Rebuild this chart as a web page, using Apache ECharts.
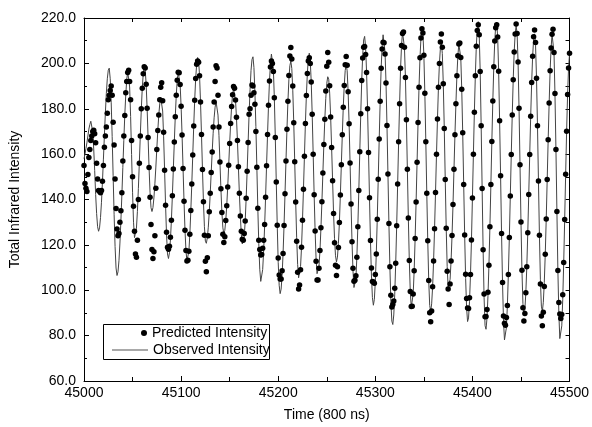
<!DOCTYPE html>
<html>
<head>
<meta charset="utf-8">
<script src="https://cdn.jsdelivr.net/npm/echarts@6/dist/echarts.min.js"></script>
<style>
  html, body { margin: 0; padding: 0; background: #fff; }
  #chart { width: 592px; height: 427px; }
</style>
</head>
<body>
<div id="chart"></div>
<script>
// Time axis: one sample per 800 ns step, starting at 45000
const startTime = 45000;

// Measured total infrared intensity (one value per time step, 45000..45500)
const observed = [
  158, 160, 162.5, 165, 168, 171, 173, 174.5, 174.2, 169.9,
  162.3, 152.8, 142.2, 133.8, 128, 126, 127.5, 132, 138.8, 147.7,
  157.8, 168.3, 178.2, 186.8, 193.2, 197, 197.9, 193.2, 182.9, 167.8,
  150.5, 133.5, 119.3, 109.8, 106.5, 108.1, 113, 120.8, 130.7, 142,
  154.1, 166.1, 177.2, 186.1, 192.8, 196.4, 196.4, 189.6, 176.6, 159.8,
  143.2, 130, 123.2, 123.3, 127.4, 134.8, 144.9, 156.4, 168.4, 179.6,
  189, 195.4, 198.4, 197.3, 190.8, 180.2, 167.3, 154.1, 143.2, 136.4,
  134.7, 136.4, 140.7, 146.9, 154.3, 162.5, 170.4, 177.2, 182.1, 185,
  185, 179, 167.6, 152.9, 137.5, 124.4, 116, 114, 116.5, 122.2,
  130.8, 141.6, 153.4, 165.3, 176.5, 185.9, 192.6, 196.1, 195.9, 190.7,
  181.1, 168.4, 153.7, 139.2, 126.5, 117.5, 112.9, 113.2, 117.2, 124.7,
  135.1, 146.8, 159.6, 172.4, 183.8, 193.3, 199.6, 202.6, 201.4, 194.6,
  183, 168.6, 153.2, 139, 128, 121.6, 120.7, 123.1, 127.8, 134.6,
  142.8, 151.9, 160.9, 169.2, 176, 180.7, 183.1, 182.4, 177.2, 168.1,
  156.5, 144.7, 134.3, 127.5, 125, 126.4, 130.7, 137.3, 145.5, 155.1,
  164.7, 173.5, 181, 186.2, 188.8, 188.3, 183.9, 176.2, 166, 154.4,
  142.7, 132.7, 124.6, 120.4, 120, 123.5, 130.5, 140.5, 152.4, 165.1,
  177.6, 188.4, 196.9, 201.7, 202.9, 198.2, 187.3, 172.2, 154.2, 136.1,
  120.5, 109.3, 103.9, 104.6, 109.1, 117.3, 128.1, 141, 154.9, 168.7,
  181.5, 192.2, 199.7, 204.1, 204.2, 197.7, 184.8, 167.3, 147.7, 128.6,
  112.2, 102.2, 98.5, 100.5, 106.6, 116.2, 128.5, 142.5, 157, 171,
  183.3, 192.9, 199, 201, 197.7, 188.2, 173.8, 156.6, 138.9, 123.1,
  111.4, 105.5, 105.8, 110.5, 118.9, 130.9, 144.5, 159.1, 173.5, 185.8,
  195.5, 202.3, 204.5, 201.2, 191.8, 177.6, 160, 142.1, 126.1, 113.7,
  107.3, 107, 110.6, 117.5, 127.5, 139, 151.7, 164.2, 175.4, 184.6,
  191.2, 194.1, 193, 186.9, 176.4, 162.9, 148.3, 133.8, 122.7, 115.2,
  112.5, 114.6, 120.6, 129.9, 142, 155.3, 168.5, 180.7, 190.3, 196.9,
  199.4, 196.7, 187.5, 173.4, 156.1, 138, 121.4, 108.5, 101.2, 100.4,
  105.2, 114.6, 128, 144, 161, 177.8, 192.4, 203.8, 210.3, 211.9,
  207.1, 196, 180, 160.7, 140.8, 121.9, 106.7, 96.8, 93.4, 96,
  103.8, 116, 131.3, 148.9, 166.7, 183.3, 197.9, 207.3, 212.6, 212.4,
  205.1, 191.4, 172.6, 151.2, 129.4, 110.4, 95.2, 86.4, 84.9, 89.1,
  98.3, 111.9, 128.4, 146.8, 165.5, 182.2, 197.8, 207.9, 213.7, 214.1,
  207.1, 193.8, 175.2, 153.3, 131.8, 113.1, 99.4, 92.5, 92.8, 98.4,
  108.6, 122.8, 138.9, 156.4, 173.9, 189.5, 202.5, 211.2, 215.3, 213.4,
  203.6, 186.8, 165.5, 142.7, 121.8, 104.3, 93.3, 90.7, 94, 101.5,
  112.9, 127.1, 143.1, 159.9, 175.5, 189.5, 199.9, 206.6, 209, 204.3,
  191, 171.3, 148.8, 127.3, 110.4, 101.2, 100.5, 104.8, 112.9, 124.1,
  137.8, 153.3, 168.5, 182.2, 194.6, 203.4, 208.5, 209.2, 202.6, 188.6,
  169.4, 146.6, 124.3, 105.2, 92.2, 86.2, 87.8, 94.9, 106.9, 122.1,
  140.7, 159.9, 178.5, 194.6, 207.5, 215.6, 218.4, 212.6, 196.4, 172.5,
  144.8, 117.8, 96.7, 84.4, 82.8, 87.6, 97.4, 111, 128, 146.6,
  165.6, 183.4, 198.5, 209.9, 216.7, 218.2, 211.6, 196.5, 174.7, 150.5,
  125, 103.4, 86.5, 78.1, 78.2, 83.6, 93.3, 106.9, 123.2, 141.5,
  159.8, 177.3, 192.8, 205, 213, 216.4, 213.2, 200.6, 180.2, 155.3,
  130.1, 108.8, 94.1, 89, 91.5, 98.9, 110.4, 125.3, 142.2, 159.8,
  176.7, 191.6, 203.1, 210.5, 213, 208, 193.4, 172.5, 148.1, 124.2,
  104.6, 93, 90.7, 94.7, 103.5, 115.9, 131.4, 148.8, 166.3, 182.5,
  196.7, 206.8, 212.8, 213.5, 204.8, 186.7, 162, 134.7, 108.7, 89.6,
  78.7, 78.1, 84.3, 96, 112.2, 131.2, 151.1, 170.1, 186.3, 198,
  204.2
];

// Model prediction at the same time steps
const predicted = [
  155, 147, 145, 143.5, 151, 158.5, 162, 166, 168, 170,
  170.5, 169, 165, 156, 149, 144, 143.5, 143, 144, 148,
  155, 163, 168, 172, 178, 184, 186, 188, 190, 186,
  174, 164, 149, 136, 127, 124, 125, 130, 135, 143,
  157, 168, 177, 187, 192, 196, 197, 192, 184, 166,
  150, 137, 126, 116, 114.5, 122, 140, 156, 168, 180,
  189, 195.4, 198.5, 198, 190.8, 180.2, 167.3, 154.1, 141, 129,
  118, 114, 117, 124, 145, 162, 170.4, 177.2, 184, 189.5,
  191.5, 183.5, 169.6, 152.9, 137.5, 125.6, 118.9, 118.1, 119.4, 123.4,
  130.8, 141.6, 153.4, 165.3, 176.5, 185.9, 192.6, 196.1, 195.9, 190.7,
  181.1, 168.4, 153.7, 139.2, 126.5, 117.5, 112.9, 113.2, 117.2, 124.7,
  135.1, 146.8, 159.6, 172.4, 183.8, 193.3, 199.6, 201, 200.5, 194.6,
  183, 168.6, 153.2, 139, 124.2, 112.8, 108.2, 114.3, 124, 134.6,
  142.8, 151.9, 160.9, 172, 183, 192, 199, 198, 186, 172,
  156.5, 144.7, 134.3, 124.7, 121, 123.6, 130.7, 137.3, 145.5, 155.1,
  164.7, 173.5, 181, 186.2, 189.8, 189, 183.9, 176.2, 166, 154.4,
  142.7, 132.7, 126, 122.5, 122, 125, 130.5, 140.5, 152.4, 165.1,
  177.6, 180, 186, 190.5, 190, 187, 182, 170, 154.2, 136.1,
  122, 118, 115.5, 115.8, 118.5, 122, 129, 141, 154.9, 168.7,
  181.5, 192.2, 198.4, 201.1, 199.9, 196.4, 184.8, 167.3, 147.7, 128.6,
  114.2, 106.7, 105, 105, 108.6, 116.2, 128.5, 142.5, 157, 171,
  183.3, 194.7, 203.2, 207, 201.9, 190, 173.8, 156.6, 138.9, 121.6,
  107.9, 100.5, 102.3, 109, 118.9, 130.9, 144.5, 159.1, 173.5, 185.8,
  195.5, 201, 202.5, 200, 191.8, 177.6, 160, 142.1, 126.1, 112.8,
  104.5, 104.5, 109.7, 117.5, 127.5, 139, 151.7, 164.2, 175.4, 187.8,
  198.7, 204.8, 200.5, 190.1, 176.4, 162.9, 148.3, 133.8, 120.9, 111,
  106.5, 110.4, 118.8, 129.9, 142, 155.3, 168.5, 180.7, 190.3, 199.4,
  203, 199.2, 187.5, 173.4, 156.1, 138, 121.4, 109.7, 104, 104.4,
  106.4, 114.6, 128, 144, 161, 177.8, 192.4, 202.4, 207.1, 207.4,
  203.9, 196, 180, 160.7, 140.8, 121.9, 109.8, 103.9, 103.6, 103.1,
  106.9, 116, 131.3, 148.9, 166.7, 183.3, 197.9, 206.3, 209.3, 209.1,
  204.1, 191.4, 172.6, 151.2, 129.4, 110.4, 97.8, 92.6, 93.7, 95.3,
  100.9, 111.9, 128.4, 146.8, 165.5, 182.2, 197.8, 207.9, 213.2, 213.8,
  207.1, 193.8, 175.2, 153.3, 131.8, 113.1, 99.4, 92.8, 93, 98.4,
  108.6, 122.8, 138.9, 156.4, 173.9, 189.5, 202.5, 211.2, 215.3, 213.4,
  203.6, 186.8, 165.5, 142.7, 121.8, 104.3, 90.1, 86.1, 90.8, 101.5,
  112.9, 127.1, 143.1, 159.9, 175.5, 189.5, 199.9, 209.4, 213, 207.1,
  191, 171.3, 148.8, 127.3, 108.4, 100.5, 93.7, 102.8, 112.9, 124.1,
  137.8, 153.3, 168.5, 182.2, 194.6, 203.4, 208.5, 209, 202.6, 188.6,
  169.4, 146.6, 124.3, 107, 96.4, 92.2, 92, 96.7, 106.9, 122.1,
  140.7, 159.9, 178.5, 194.6, 207.5, 214.5, 217, 212.6, 196.4, 172.5,
  144.8, 117.8, 98.4, 88.3, 88.4, 91.5, 99.1, 111, 128, 146.6,
  165.6, 183.4, 198.5, 209.9, 215.7, 217, 211.6, 196.5, 174.7, 150.5,
  125, 103.4, 88.7, 85.4, 84.6, 88, 93.3, 106.9, 123.2, 141.5,
  159.8, 177.3, 192.8, 205, 213, 217.4, 213.2, 200.6, 180.2, 155.3,
  130.1, 108.8, 92.3, 86.4, 89.7, 98.9, 110.4, 125.3, 142.2, 159.8,
  176.7, 191.6, 203.1, 211.7, 214.7, 209.2, 193.4, 172.5, 148.1, 124.2,
  102.7, 88.6, 84.4, 90.3, 101.6, 115.9, 131.4, 148.8, 166.3, 182.5,
  196.7, 206.8, 212.8, 215, 204.8, 186.7, 162, 134.7, 108.7, 94.6,
  89.5, 87.5, 89.3, 98, 112.2, 131.2, 151.1, 170.1, 186.3, 198,
  204.5
];

const seriesNames = ['Predicted Intensity', 'Observed Intensity'];
const FONT = '"Liberation Sans", Arial, Helvetica, sans-serif';

const toPairs = (values) => values.map((v, i) => [startTime + i, v]);

const chart = echarts.init(document.getElementById('chart'), null, { renderer: 'canvas' });

const axisLine = { show: true, lineStyle: { color: '#000', width: 1 } };

chart.setOption({
  animation: false,
  backgroundColor: '#fff',
  grid: { left: 81, right: 20, top: 18, bottom: 42, containLabel: false },
  xAxis: [
    {
      type: 'value', min: 45000, max: 45500, interval: 100,
      name: 'Time (800 ns)', nameLocation: 'middle', nameGap: 27,
      nameTextStyle: { fontFamily: FONT, fontSize: 14, color: '#000' },
      axisLine: axisLine,
      axisTick: { inside: true, length: 5, lineStyle: { color: '#000' } },
      minorTick: { show: true, splitNumber: 2, length: 4, lineStyle: { color: '#000' } },
      axisLabel: {
        fontFamily: FONT, fontSize: 14, color: '#000', margin: 5,
        formatter: (v) => String(v)
      },
      splitLine: { show: false }
    },
    {
      type: 'value', position: 'top', min: 45000, max: 45500, interval: 50,
      axisLine: axisLine,
      axisTick: { inside: true, length: 4, lineStyle: { color: '#000' } },
      axisLabel: { show: false },
      splitLine: { show: false }
    }
  ],
  yAxis: [
    {
      type: 'value', min: 60, max: 220, interval: 20,
      name: 'Total Infrared Intensity', nameLocation: 'middle', nameGap: 62, nameRotate: 90,
      nameTextStyle: { fontFamily: FONT, fontSize: 14, color: '#000' },
      axisLine: axisLine,
      axisTick: { inside: true, length: 5, lineStyle: { color: '#000' } },
      minorTick: { show: true, splitNumber: 2, length: 3, lineStyle: { color: '#000' } },
      axisLabel: {
        fontFamily: FONT, fontSize: 14, color: '#000', margin: 8,
        formatter: (v) => v.toFixed(1)
      },
      splitLine: { show: false }
    },
    {
      type: 'value', position: 'right', min: 60, max: 220, interval: 10,
      axisLine: axisLine,
      axisTick: { inside: true, length: 4, lineStyle: { color: '#000' } },
      axisLabel: { show: false },
      splitLine: { show: false }
    }
  ],
  legend: [
    {
      data: [{ name: seriesNames[0], icon: 'circle' }],
      left: 141, top: 326, padding: 0, z: 10,
      itemWidth: 6, itemHeight: 6,
      textStyle: { fontFamily: FONT, fontSize: 14, color: '#000' }
    },
    {
      data: [{ name: seriesNames[1], icon: 'rect' }],
      left: 112, top: 343, padding: 0, z: 10,
      itemWidth: 36, itemHeight: 1,
      itemStyle: { color: '#555' },
      textStyle: { fontFamily: FONT, fontSize: 14, color: '#000' }
    }
  ],
  graphic: [
    {
      type: 'rect', z: 5, silent: true,
      shape: { x: 103.5, y: 324.5, width: 166, height: 35 },
      style: { fill: '#fff', stroke: '#000', lineWidth: 1 }
    }
  ],
  series: [
    {
      name: seriesNames[1], type: 'line', xAxisIndex: 0, yAxisIndex: 0,
      data: toPairs(observed), symbol: 'none', showSymbol: false,
      lineStyle: { color: '#444', width: 1 }, itemStyle: { color: '#444' },
      z: 2
    },
    {
      name: seriesNames[0], type: 'scatter', xAxisIndex: 0, yAxisIndex: 0,
      data: toPairs(predicted), symbol: 'circle', symbolSize: 5.5,
      itemStyle: { color: '#000', opacity: 1 }, z: 3
    }
  ]
});
</script>
</body>
</html>
